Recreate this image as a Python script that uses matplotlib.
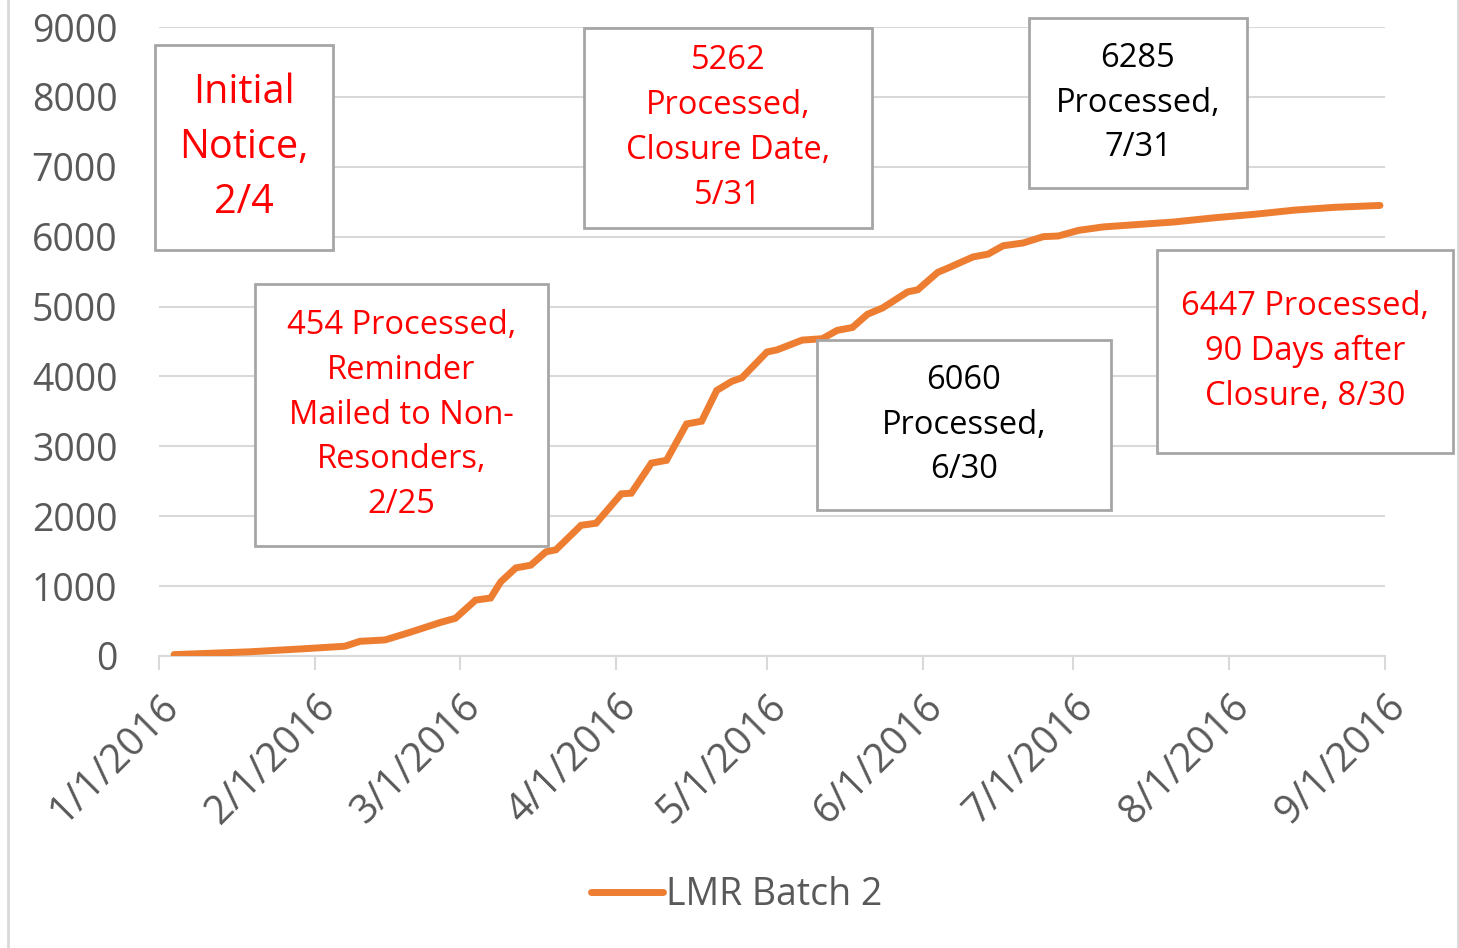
import datetime as dt
import matplotlib
matplotlib.use("Agg")
import matplotlib.pyplot as plt
from matplotlib.patches import Rectangle
from matplotlib.lines import Line2D

plt.rcParams['font.family'] = ['Open Sans', 'DejaVu Sans']

# cumulative processed
dates = ["2016-01-04", "2016-01-19", "2016-01-29", "2016-02-07", "2016-02-10",
         "2016-02-15", "2016-02-20", "2016-02-26", "2016-02-29", "2016-03-04",
         "2016-03-07", "2016-03-09", "2016-03-12", "2016-03-15", "2016-03-18",
         "2016-03-20", "2016-03-25", "2016-03-28", "2016-04-02", "2016-04-04",
         "2016-04-08", "2016-04-11", "2016-04-15", "2016-04-18", "2016-04-21",
         "2016-04-24", "2016-04-26", "2016-05-01", "2016-05-03", "2016-05-08",
         "2016-05-12", "2016-05-15", "2016-05-18", "2016-05-21", "2016-05-24",
         "2016-05-29", "2016-05-31", "2016-06-04", "2016-06-06", "2016-06-11",
         "2016-06-14", "2016-06-17", "2016-06-21", "2016-06-25", "2016-06-28",
         "2016-07-02", "2016-07-07", "2016-07-13", "2016-07-21", "2016-07-29",
         "2016-08-06", "2016-08-14", "2016-08-22", "2016-08-31"]
processed = [20, 60, 100, 140, 210,
             230, 340, 480, 540, 800,
             830, 1060, 1260, 1300, 1490,
             1520, 1870, 1900, 2320, 2330,
             2760, 2800, 3320, 3360, 3800,
             3930, 3980, 4350, 4380, 4520,
             4540, 4660, 4700, 4890, 4980,
             5210, 5240, 5490, 5550, 5710,
             5750, 5870, 5910, 6000, 6010,
             6090, 6140, 6170, 6210, 6270,
             6320, 6380, 6420, 6447]

month_ticks = ["2016-01-01", "2016-02-01", "2016-03-01", "2016-04-01", "2016-05-01",
               "2016-06-01", "2016-07-01", "2016-08-01", "2016-09-01"]
tick_labels = ["1/1/2016", "2/1/2016", "3/1/2016", "4/1/2016", "5/1/2016",
               "6/1/2016", "7/1/2016", "8/1/2016", "9/1/2016"]

notes = ["Initial\nNotice,\n2/4",
         "454 Processed,\nReminder\nMailed to Non-\nResonders,\n2/25",
         "5262\nProcessed,\nClosure Date,\n5/31",
         "6060\nProcessed,\n6/30",
         "6285\nProcessed,\n7/31",
         "6447 Processed,\n90 Days after\nClosure, 8/30"]
note_colors = ["#ff0000", "#ff0000", "#ff0000", "black", "black", "#ff0000"]
note_sizes = [28.5, 23.5, 23.5, 23.5, 23.5, 23.5]
# box (left, top, right, bottom) in figure pixels
note_boxes = [(155, 45, 333, 250), (255, 284, 548, 546), (584, 28, 872, 228),
              (817, 340, 1111, 510), (1029, 18, 1247, 188), (1157, 250, 1453, 453)]

W, H = 1459, 948
fig = plt.figure(figsize=(W / 100, H / 100), dpi=100)
ax = fig.add_axes([159 / W, 1 - 656 / H, (1385 - 159) / W, (656 - 27) / H])

x = [dt.datetime.strptime(d, "%Y-%m-%d") for d in dates]
ticks = [dt.datetime.strptime(d, "%Y-%m-%d") for d in month_ticks]

ax.plot(x, processed, color="#ed7d31", lw=5, solid_capstyle="round",
        solid_joinstyle="miter", label="LMR Batch 2", zorder=3)

ax.set_xlim(ticks[0], ticks[-1])
ax.set_ylim(0, 9000)
ax.set_yticks(range(0, 9001, 1000))
ax.set_xticks(ticks)
ax.set_xticklabels(tick_labels, rotation=45, ha="right", rotation_mode="anchor")
ax.tick_params(axis="y", length=0, pad=30, labelsize=27, labelcolor="#595959")
ax.tick_params(axis="x", length=10, width=1.5, color="#d9d9d9", pad=12,
               labelsize=28.5, labelcolor="#595959")
ax.grid(axis="y", color="#d9d9d9", lw=1.5)
ax.set_axisbelow(True)
for s in ["top", "right", "left"]:
    ax.spines[s].set_visible(False)
ax.spines["bottom"].set_color("#d9d9d9")
ax.spines["bottom"].set_linewidth(1.5)

for txt, col, fs, (l, t, r, b) in zip(notes, note_colors, note_sizes, note_boxes):
    fig.patches.append(Rectangle((l / W, 1 - b / H), (r - l) / W, (b - t) / H,
                                 transform=fig.transFigure, facecolor="white",
                                 edgecolor="#a6a6a6", lw=2, zorder=5))
    fig.text((l + r) / 2 / W, 1 - (t + b) / 2 / H, txt, color=col, fontsize=fs,
             ha="center", va="center", linespacing=1.47, zorder=6)

# chart area border
fig.add_artist(Line2D([8 / W, 8 / W], [0, 1], color="#d9d9d9", lw=2))
fig.add_artist(Line2D([1458 / W, 1458 / W], [0, 1], color="#d9d9d9", lw=2))

leg = fig.legend(loc="center", bbox_to_anchor=(737 / W, 1 - 895 / H), frameon=False,
                 fontsize=27, handlelength=1.9, handletextpad=0.1)
for t in leg.get_texts():
    t.set_color("#595959")

fig.savefig("out.png", dpi=100)
